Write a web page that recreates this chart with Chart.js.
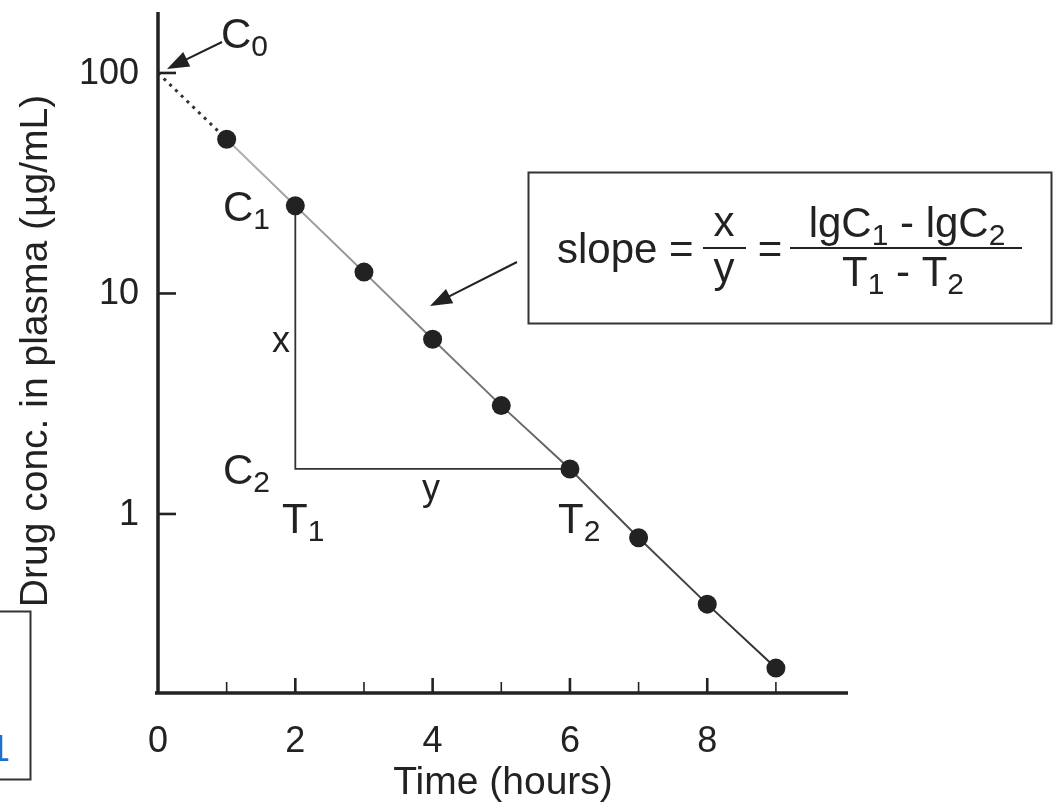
<!DOCTYPE html>
<html>
<head>
<meta charset="utf-8">
<script src="https://cdn.jsdelivr.net/npm/chart.js@4.4.1/dist/chart.umd.min.js"></script>
<style>
  html, body { margin: 0; padding: 0; background: #fff; }
  #wrap { width: 1055px; height: 806px; }
</style>
</head>
<body>
<div id="wrap"><canvas id="chart" width="1055" height="806"></canvas></div>
<script>
// data
const hours = [1, 2, 3, 4, 5, 6, 7, 8, 9];
const concentrations = [50, 25, 12.5, 6.2, 3.1, 1.6, 0.78, 0.39, 0.2];
const c0 = 100;

const xTicks = [1, 2, 3, 4, 5, 6, 7, 8, 9];
const xTickLabels = [0, 2, 4, 6, 8];
const yTicks = [1, 10, 100];

const xTitle = 'Time (hours)';
const yTitle = 'Drug conc. in plasma (µg/mL)';

const FONT = '"Liberation Sans", Arial, Helvetica, sans-serif';
const INK = '#222';

function setFont(ctx, size) {
    ctx.font = `${size}px ${FONT}`;
}

// draws a list of parts [text, isSub] starting at x, returns width
function drawParts(ctx, parts, x, y, size, subSize, align) {
    let total = 0;
    parts.forEach(p => {
        setFont(ctx, p[1] ? subSize : size);
        total += ctx.measureText(p[0]).width;
    });
    let cx = x;
    if (align === 'center') cx = x - total / 2;
    ctx.textAlign = 'left';
    ctx.textBaseline = 'alphabetic';
    parts.forEach(p => {
        setFont(ctx, p[1] ? subSize : size);
        ctx.fillText(p[0], cx, p[1] ? y + 8 : y);
        cx += ctx.measureText(p[0]).width;
    });
    return total;
}

function arrow(ctx, x1, y1, x2, y2) {
    const a = Math.atan2(y2 - y1, x2 - x1);
    const len = 22, half = 8;
    ctx.strokeStyle = INK;
    ctx.fillStyle = INK;
    ctx.lineWidth = 2;
    ctx.beginPath();
    ctx.moveTo(x1, y1);
    ctx.lineTo(x2 - Math.cos(a) * len * 0.8, y2 - Math.sin(a) * len * 0.8);
    ctx.stroke();
    ctx.beginPath();
    ctx.moveTo(x2, y2);
    ctx.lineTo(x2 - Math.cos(a) * len - Math.sin(a) * half, y2 - Math.sin(a) * len + Math.cos(a) * half);
    ctx.lineTo(x2 - Math.cos(a) * len + Math.sin(a) * half, y2 - Math.sin(a) * len - Math.cos(a) * half);
    ctx.closePath();
    ctx.fill();
}

const triangle = {
    id: 'triangle',
    beforeDatasetsDraw(chart) {
        const { ctx, scales: { x, y } } = chart;
        const x1 = x.getPixelForValue(hours[1]);
        const x2 = x.getPixelForValue(hours[5]);
        const y1 = y.getPixelForValue(concentrations[1]);
        const y2 = y.getPixelForValue(concentrations[5]);
        ctx.save();
        ctx.strokeStyle = '#333';
        ctx.lineWidth = 1.8;
        ctx.beginPath();
        ctx.moveTo(x1, y1);
        ctx.lineTo(x1, y2);
        ctx.lineTo(x2, y2);
        ctx.stroke();
        ctx.restore();
    }
};

const axesAndNotes = {
    id: 'axesAndNotes',
    afterDraw(chart) {
        const { ctx, chartArea: ca, scales: { x, y } } = chart;
        ctx.save();
        ctx.strokeStyle = INK;
        ctx.fillStyle = INK;

        // axis lines
        ctx.lineWidth = 3.5;
        ctx.beginPath();
        ctx.moveTo(ca.left, ca.top);
        ctx.lineTo(ca.left, ca.bottom + 1.5);
        ctx.moveTo(ca.left - 3, ca.bottom);
        ctx.lineTo(ca.right, ca.bottom);
        ctx.stroke();

        // x ticks, pointing up
        xTicks.forEach(v => {
            const px = x.getPixelForValue(v);
            const major = v % 2 === 0;
            ctx.lineWidth = major ? 2.6 : 1.6;
            ctx.beginPath();
            ctx.moveTo(px, ca.bottom);
            ctx.lineTo(px, ca.bottom - (major ? 15 : 11));
            ctx.stroke();
        });
        // y ticks, pointing right
        yTicks.forEach(v => {
            const py = y.getPixelForValue(v);
            ctx.lineWidth = 2.6;
            ctx.beginPath();
            ctx.moveTo(ca.left, py);
            ctx.lineTo(ca.left + 18, py);
            ctx.stroke();
        });

        // tick labels
        setFont(ctx, 36);
        ctx.textAlign = 'center';
        ctx.textBaseline = 'alphabetic';
        xTickLabels.forEach(v => ctx.fillText(String(v), x.getPixelForValue(v), 752));
        ctx.textAlign = 'right';
        ctx.textBaseline = 'middle';
        yTicks.forEach(v => ctx.fillText(String(v), ca.left - 19, y.getPixelForValue(v) + 1));

        // axis titles
        setFont(ctx, 39);
        ctx.textAlign = 'center';
        ctx.textBaseline = 'alphabetic';
        ctx.fillText(xTitle, 503, 794);
        ctx.save();
        ctx.translate(47, 351);
        ctx.rotate(-Math.PI / 2);
        ctx.fillText(yTitle, 0, 0);
        ctx.restore();

        // point labels
        drawParts(ctx, [['C', false], ['0', true]], 221, 48, 42, 30);
        drawParts(ctx, [['C', false], ['1', true]], 223, 221, 42, 30);
        drawParts(ctx, [['C', false], ['2', true]], 223, 484, 42, 30);
        drawParts(ctx, [['T', false], ['1', true]], 282, 533, 42, 30);
        drawParts(ctx, [['T', false], ['2', true]], 558, 533, 42, 30);
        setFont(ctx, 36);
        ctx.textAlign = 'center';
        ctx.fillText('x', 281, 352);
        ctx.fillText('y', 431, 500);

        // arrows
        arrow(ctx, 222, 42, x.getPixelForValue(0) + 9, y.getPixelForValue(c0) - 4);
        arrow(ctx, 517, 262, 430, 306);

        // formula box
        ctx.lineWidth = 2;
        ctx.strokeStyle = '#333';
        ctx.strokeRect(528.5, 172.5, 523, 151);
        ctx.lineWidth = 1.8;
        ctx.strokeStyle = INK;
        drawParts(ctx, [['slope =', false]], 557, 263, 42, 30);
        ctx.beginPath();
        ctx.moveTo(703, 248); ctx.lineTo(746, 248);
        ctx.moveTo(790, 248); ctx.lineTo(1022, 248);
        ctx.stroke();
        drawParts(ctx, [['x', false]], 724, 236, 42, 30, 'center');
        drawParts(ctx, [['y', false]], 724, 282, 42, 30, 'center');
        drawParts(ctx, [['=', false]], 770, 263, 42, 30, 'center');
        drawParts(ctx, [['lgC', false], ['1', true], [' - lgC', false], ['2', true]], 907, 237, 42, 30, 'center');
        drawParts(ctx, [['T', false], ['1', true], [' - T', false], ['2', true]], 903, 286, 42, 30, 'center');

        // cropped box at the left edge
        ctx.lineWidth = 2;
        ctx.strokeStyle = '#333';
        ctx.strokeRect(-5, 611.5, 35.5, 168);
        ctx.fillStyle = '#1f6fd1';
        setFont(ctx, 36);
        ctx.textAlign = 'right';
        ctx.fillText('1', 10, 761);

        ctx.restore();
    }
};

new Chart(document.getElementById('chart'), {
    type: 'scatter',
    data: {
        datasets: [
            {
                data: hours.map((h, i) => ({ x: h, y: concentrations[i] })),
                showLine: true,
                borderWidth: 2,
                borderColor: function(context) {
                    const ca = context.chart.chartArea;
                    if (!ca) return '#555';
                    const g = context.chart.ctx.createLinearGradient(ca.left, 0, ca.right, 0);
                    g.addColorStop(0, '#c4c4c4');
                    g.addColorStop(0.45, '#777');
                    g.addColorStop(1, '#1a1a1a');
                    return g;
                },
                pointRadius: 9.5,
                pointBackgroundColor: INK,
                pointBorderColor: INK,
                pointBorderWidth: 0
            },
            {
                data: [{ x: 0, y: c0 }, { x: hours[0], y: concentrations[0] }],
                showLine: true,
                borderColor: '#333',
                borderWidth: 3,
                borderDash: [3, 5],
                pointRadius: 0
            }
        ]
    },
    options: {
        responsive: false,
        animation: false,
        layout: { padding: { left: 158, right: 1055 - 848, top: 12, bottom: 806 - 693 } },
        scales: {
            x: { type: 'linear', min: 0, max: 10.05, display: false },
            y: { type: 'logarithmic', min: 0.1542, max: 189, display: false, bounds: 'data' }
        },
        plugins: { legend: { display: false }, tooltip: { enabled: false } }
    },
    plugins: [triangle, axesAndNotes]
});
</script>
</body>
</html>
